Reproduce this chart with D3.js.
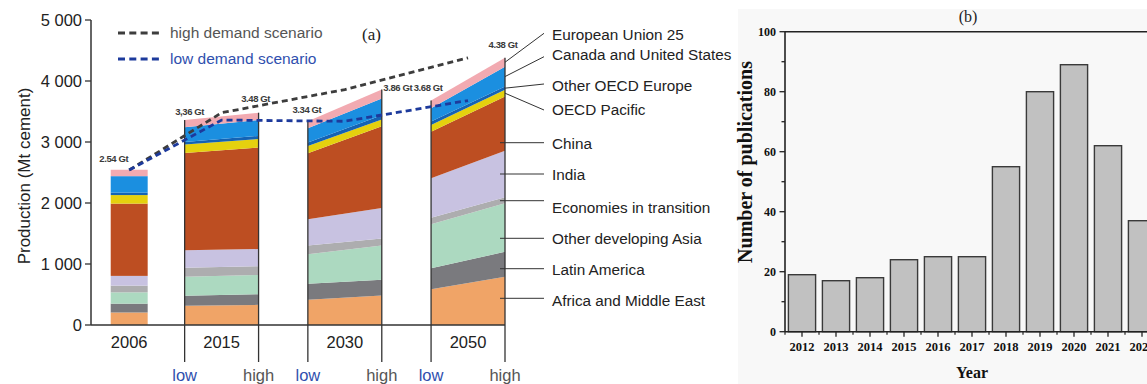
<!DOCTYPE html>
<html><head><meta charset="utf-8">
<script src="https://cdn.jsdelivr.net/npm/d3@7"></script>
<style>body{margin:0;background:#fff} svg{display:block}</style>
</head><body>
<svg id="c" width="1147" height="384"></svg>
<script>
// ================= Panel (a) data =================
const columns = ["2006", "2015 low", "2015 high", "2030 low", "2030 high", "2050 low", "2050 high"];
const regionNames = ["Africa and Middle East", "Latin America", "Other developing Asia", "Economies in transition", "India", "China", "OECD Pacific", "Other OECD Europe", "Canada and United States", "European Union 25"];
const africaMiddleEast   = [205, 315, 330, 415, 485, 585, 790];
const latinAmerica       = [145, 165, 175, 260, 255, 345, 410];
const otherDevAsia       = [185, 310, 315, 485, 565, 720, 795];
const econTransition     = [110, 150, 145, 145, 115, 110, 100];
const india              = [160, 285, 280, 430, 500, 645, 760];
const china              = [1185, 1595, 1665, 1080, 1340, 765, 890];
const oecdPacific        = [140, 140, 140, 120, 110, 110, 110];
const otherOecdEurope    = [40, 40, 50, 55, 70, 55, 55];
const canadaUS           = [270, 240, 260, 235, 275, 220, 325];
const eu25               = [105, 120, 120, 115, 145, 125, 145];
const scenarioYears = ["2006", "2015", "2030", "2050"];
const lowDemand  = [2540, 3360, 3340, 3680];
const highDemand = [2540, 3480, 3860, 4380];
const totalLabels = ["2.54 Gt", "3,36 Gt", "3.48 Gt", "3.34 Gt", "3.86 Gt", "3.68 Gt", "4.38 Gt"];
const yTicksA = [0, 1000, 2000, 3000, 4000, 5000];
const yTickLabelsA = ["0", "1 000", "2 000", "3 000", "4 000", "5 000"];

// ================= Panel (b) data =================
const pubYears = ["2012", "2013", "2014", "2015", "2016", "2017", "2018", "2019", "2020", "2021", "2022"];
const publications = [19, 17, 18, 24, 25, 25, 55, 80, 89, 62, 37];
const yTicksB = [0, 20, 40, 60, 80, 100];

// ================= styles =================
const regionColors = ["#f0a467", "#7a7a7e", "#acd9c0", "#adadaf", "#c8c2e1", "#bd4e22", "#e5d10e", "#1463b4", "#1b8fe0", "#f2aab1"];
const sans = "'Liberation Sans', Arial, sans-serif";
const serif = "'Liberation Serif', 'Times New Roman', serif";

const svg = d3.select("#c");

// ---------- Panel (a) layout ----------
// layout units: segment width 3, gaps 2, 2006 bar width 1.5
const colUnit = [0.8, 3.8, 6.8, 8.8, 11.8, 13.8, 16.8]; // 2006 left edge, then low/high edges
const bar2006W = 1.5;
const yearCenterUnit = {"2006": 0.8 + 0.75, "2015": 5.3, "2030": 10.3, "2050": 15.3};
const xA = d3.scaleLinear().domain([0, 16.8]).range([91, 505]);
const yA = d3.scaleLinear().domain([0, 5000]).range([325, 20]);

const series = [africaMiddleEast, latinAmerica, otherDevAsia, econTransition, india, china, oecdPacific, otherOecdEurope, canadaUS, eu25];
const keys = regionNames;
const rows = columns.map((c, i) => {
  const o = {col: c, idx: i};
  keys.forEach((k, j) => o[k] = series[j][i]);
  return o;
});
const stacked = d3.stack().keys(keys)(rows);
const totals = rows.map(r => d3.sum(keys, k => r[k]));

const gA = svg.append("g");

// 2006 bar
stacked.forEach((layer, j) => {
  const d = layer[0];
  gA.append("rect")
    .attr("x", xA(colUnit[0])).attr("width", xA(colUnit[0] + bar2006W) - xA(colUnit[0]))
    .attr("y", yA(d[1])).attr("height", yA(d[0]) - yA(d[1]))
    .attr("fill", regionColors[j]);
});

// scenario segments (low -> high)
const area = d3.area().x(d => xA(colUnit[d.data.idx])).y0(d => yA(d[0])).y1(d => yA(d[1]));
[[1, 2], [3, 4], [5, 6]].forEach(([a, b]) => {
  stacked.forEach((layer, j) => {
    gA.append("path").datum([layer[a], layer[b]]).attr("d", area).attr("fill", regionColors[j]);
  });
});

// edge lines of the segments
for (let i = 1; i < 7; i++) {
  gA.append("line")
    .attr("x1", xA(colUnit[i])).attr("x2", xA(colUnit[i]))
    .attr("y1", yA(totals[i])).attr("y2", 362)
    .attr("stroke", "#333").attr("stroke-width", 1.3);
}

// axes
gA.append("line").attr("x1", 91).attr("x2", 505).attr("y1", yA(0)).attr("y2", yA(0)).attr("stroke", "#333").attr("stroke-width", 1.5);
gA.append("line").attr("x1", 91).attr("x2", 91).attr("y1", yA(5000)).attr("y2", yA(0)).attr("stroke", "#333").attr("stroke-width", 1.5);
yTicksA.forEach((t, i) => {
  gA.append("line").attr("x1", 85).attr("x2", 91).attr("y1", yA(t)).attr("y2", yA(t)).attr("stroke", "#333").attr("stroke-width", 1.3);
  gA.append("text").attr("x", 82).attr("y", yA(t)).attr("dy", "0.36em").attr("text-anchor", "end")
    .attr("font-family", sans).attr("font-size", 16.5).attr("fill", "#222").text(yTickLabelsA[i]);
});
gA.append("text").attr("transform", "translate(30,176) rotate(-90)").attr("text-anchor", "middle")
  .attr("font-family", sans).attr("font-size", 17).attr("fill", "#222").text("Production (Mt cement)");

scenarioYears.forEach(y => {
  gA.append("text").attr("x", xA(yearCenterUnit[y])).attr("y", 348).attr("text-anchor", "middle")
    .attr("font-family", sans).attr("font-size", 16.5).attr("fill", "#222").text(y);
});
for (let i = 1; i < 7; i++) {
  const isLow = i % 2 === 1;
  gA.append("text").attr("x", xA(colUnit[i])).attr("y", 381).attr("text-anchor", "middle")
    .attr("font-family", sans).attr("font-size", 16.5).attr("fill", isLow ? "#2f4fae" : "#555")
    .text(isLow ? "low" : "high");
}

// demand scenario lines
const dLine = d3.line().x((d, i) => xA(yearCenterUnit[scenarioYears[i]])).y(d => yA(d));
gA.append("path").datum(highDemand).attr("d", dLine).attr("fill", "none")
  .attr("stroke", "#3d3d3d").attr("stroke-width", 2.8).attr("stroke-dasharray", "6,4");
gA.append("path").datum(lowDemand).attr("d", dLine).attr("fill", "none")
  .attr("stroke", "#1d3a9c").attr("stroke-width", 2.8).attr("stroke-dasharray", "6,4");

// total labels
const labelNudgeX = [3, 5, -3, -1, 16, -3, -2];
const labelNudgeY = [-8, -5, -10.5, -8, 1.5, -9.5, -10];
totalLabels.forEach((t, i) => {
  gA.append("text").attr("x", xA(colUnit[i]) + labelNudgeX[i]).attr("y", yA(totals[i]) + labelNudgeY[i])
    .attr("text-anchor", "middle").attr("font-family", sans).attr("font-size", 9.5).attr("letter-spacing", -0.4)
    .attr("font-weight", "bold").attr("fill", "#3a3a3a").text(t);
});

// scenario legend
[["high demand scenario", "#3d3d3d", "#555", 33], ["low demand scenario", "#1d3a9c", "#2f4fae", 59]].forEach(([t, lc, tc, y]) => {
  gA.append("line").attr("x1", 118).attr("x2", 162).attr("y1", y).attr("y2", y)
    .attr("stroke", lc).attr("stroke-width", 2.8).attr("stroke-dasharray", "7,4.3");
  gA.append("text").attr("x", 170).attr("y", y).attr("dy", "0.35em").attr("font-family", sans)
    .attr("font-size", 15.5).attr("fill", tc).text(t);
});
gA.append("text").attr("x", 362).attr("y", 40).attr("font-family", serif).attr("font-size", 17).attr("fill", "#222").text("(a)");

// region legend with leaders (EU25 at top)
const legendTextY = [300.7, 269, 238, 207, 174, 143, 109, 85, 54, 34];
const legendLeaderY = [298.3, 268.7, 238.3, 200.7, 174, 142.7, 110, 84, 56.7, 33.3];
const last = 6;
regionNames.forEach((name, j) => {
  const diagonal = j >= 6;
  const startX = diagonal ? xA(colUnit[last]) : xA(colUnit[last]) - 5;
  const startY = diagonal ? yA((stacked[j][last][0] + stacked[j][last][1]) / 2) : legendLeaderY[j];
  gA.append("line").attr("x1", startX).attr("y1", startY).attr("x2", 544).attr("y2", legendLeaderY[j])
    .attr("stroke", "#333").attr("stroke-width", 1);
  gA.append("text").attr("x", 552).attr("y", legendTextY[j]).attr("dy", "0.36em")
    .attr("font-family", sans).attr("font-size", 15.3).attr("fill", "#222").text(name);
});

// ---------- Panel (b) ----------
const gB = svg.append("g");
gB.append("rect").attr("x", 738).attr("y", 9).attr("width", 409).attr("height", 375).attr("fill", "#f8f8f8");
const xB = d3.scaleBand().domain(pubYears).range([785, 1159]).paddingInner(0.2).paddingOuter(0.1);
const yB = d3.scaleLinear().domain([0, 100]).range([331.7, 31.7]);

gB.selectAll("rect.bar").data(publications).join("rect").attr("class", "bar")
  .attr("x", (d, i) => xB(pubYears[i])).attr("width", xB.bandwidth())
  .attr("y", d => yB(d)).attr("height", d => yB(0) - yB(d))
  .attr("fill", "#c1c1c1").attr("stroke", "#3a3a3a").attr("stroke-width", 1.4);

// frame
gB.append("line").attr("x1", 785).attr("x2", 1147).attr("y1", yB(100)).attr("y2", yB(100)).attr("stroke", "#222").attr("stroke-width", 1.6);
gB.append("line").attr("x1", 785).attr("x2", 1147).attr("y1", yB(0)).attr("y2", yB(0)).attr("stroke", "#222").attr("stroke-width", 1.6);
gB.append("line").attr("x1", 785).attr("x2", 785).attr("y1", yB(100)).attr("y2", yB(0)).attr("stroke", "#222").attr("stroke-width", 1.6);

// y ticks
d3.range(0, 101, 10).forEach(v => {
  const major = v % 20 === 0;
  gB.append("line").attr("x1", major ? 779.5 : 781.5).attr("x2", 785).attr("y1", yB(v)).attr("y2", yB(v)).attr("stroke", "#222").attr("stroke-width", 1.3);
});
yTicksB.forEach(v => {
  gB.append("text").attr("x", 776).attr("y", yB(v)).attr("dy", "0.35em").attr("text-anchor", "end")
    .attr("font-family", serif).attr("font-weight", "bold").attr("font-size", 12).attr("fill", "#111").text(v);
});
// x ticks
pubYears.forEach(y => {
  const cx = xB(y) + xB.bandwidth() / 2;
  gB.append("line").attr("x1", cx).attr("x2", cx).attr("y1", yB(0)).attr("y2", yB(0) + 5).attr("stroke", "#222").attr("stroke-width", 1.3);
  const bx = xB(y) - xB.step() * xB.paddingInner() / 2;
  gB.append("line").attr("x1", bx).attr("x2", bx).attr("y1", yB(0)).attr("y2", yB(0) + 3).attr("stroke", "#222").attr("stroke-width", 1.2);
  gB.append("text").attr("x", cx).attr("y", 351).attr("text-anchor", "middle")
    .attr("font-family", serif).attr("font-weight", "bold").attr("font-size", 12.5).attr("fill", "#111").text(y);
});
gB.append("text").attr("x", 972).attr("y", 378).attr("text-anchor", "middle")
  .attr("font-family", serif).attr("font-weight", "bold").attr("font-size", 16).attr("fill", "#111").text("Year");
gB.append("text").attr("transform", "translate(752,162) rotate(-90)").attr("text-anchor", "middle")
  .attr("font-family", serif).attr("font-weight", "bold").attr("font-size", 20).attr("fill", "#111").text("Number of publications");
gB.append("text").attr("x", 968).attr("y", 22).attr("text-anchor", "middle")
  .attr("font-family", serif).attr("font-size", 16).attr("fill", "#222").text("(b)");
</script>
</body></html>
